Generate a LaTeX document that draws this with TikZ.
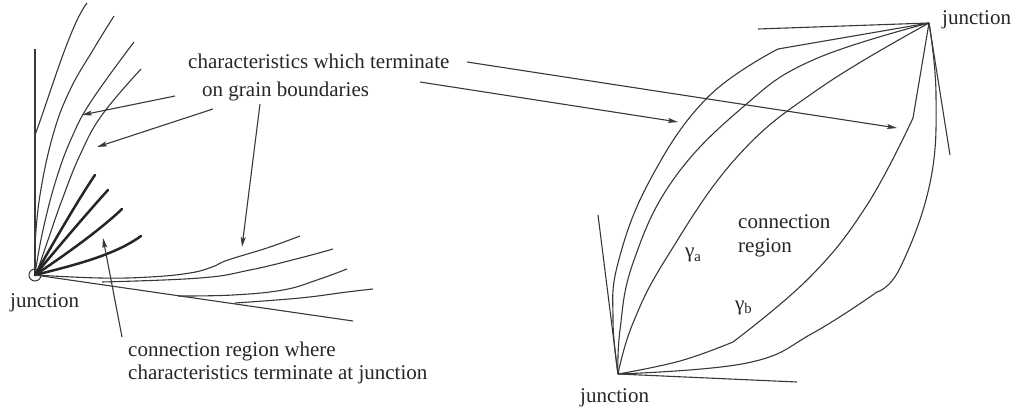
\documentclass[tikz,border=0pt]{standalone}
\usepackage{fontspec}
\setmainfont{Liberation Serif}
\usetikzlibrary{arrows.meta}
\begin{document}
\begin{tikzpicture}[x=1pt,y=-1pt,
  ln/.style={line width=1.1pt, draw=black!78, line join=round},
  bold/.style={line width=2.5pt, draw=black!85, line cap=round},
  arr/.style={line width=1.1pt, draw=black!78, -{Stealth[length=10pt,width=5pt,inset=2pt]}},
  lbl/.style={font=\fontsize{21}{25}\selectfont, text=black!85, inner sep=0pt, anchor=base west},
  sm/.style={smooth, tension=0.7},
]
\useasboundingbox (0,0) rectangle (1016,411);

% ---------------- left figure ----------------
\coordinate (JL) at (35,275);
\node[circle, draw=black!78, line width=1pt, minimum size=12pt, inner sep=0pt] (JLc) at (JL) {};
\coordinate (GBtop) at (35,49);
\coordinate (GBlow) at (353,321);
\draw[ln] (GBtop) -- (JL);
\draw[ln] (JL) -- (GBlow);

% characteristics ending on vertical boundary
\draw[ln] (35,135) .. controls (50,95) and (70,25) .. (87,3);
\draw[ln] plot[sm] coordinates {(35,245) (40,195) (53,135) (70,90) (93,50) (114,16)};
\draw[ln] plot[sm] coordinates {(36,268) (43,230) (56,180) (72,137) (92,100) (134,42)};
\draw[ln] plot[sm] coordinates {(37,272) (48,240) (62,200) (80,155) (102,115) (141,69)};

% bold connection-region characteristics
\draw[bold] (JL) .. controls (55,240) and (78,200) .. (95,175);
\draw[bold] (JL) .. controls (60,245) and (88,212) .. (108,190);
\draw[bold] (JL) .. controls (65,255) and (100,230) .. (122,209);
\draw[bold] (JL) .. controls (75,265) and (115,255) .. (141,236);

% characteristics ending on lower boundary
\draw[ln] plot[sm] coordinates {(JL) (100,278) (150,277) (190,273) (212,267) (228,260) (267,248) (300,236)};
\draw[ln] plot[sm] coordinates {(102,282) (200,278) (250,270) (300,258) (333,249)};
\draw[ln] plot[sm] coordinates {(178,296) (233,295) (283,290) (317,280) (347,269)};
\draw[ln] plot[sm] coordinates {(235,303) (300,298) (347,292) (373,289)};

\node[lbl] (jl) at (10,308) {junction};

% ---------------- labels and arrows ----------------
\node[lbl] (t1) at (188,69) {characteristics which terminate};
\node[lbl] (t2) at (202,97) {on grain boundaries};
\node[lbl] (t3) at (128,356) {connection region where};
\node[lbl] (t4) at (128,379) {characteristics terminate at junction};

\coordinate (a1s) at (175,96);  \coordinate (a1e) at (82,115);
\coordinate (a2s) at (213,109); \coordinate (a2e) at (97,147);
\coordinate (a3s) at (260,104); \coordinate (a3e) at (242,247);
\coordinate (a4s) at (467,62);  \coordinate (a4e) at (897,128);
\coordinate (a5s) at (420,82);  \coordinate (a5e) at (678,122);
\coordinate (a6s) at (122,337); \coordinate (a6e) at (103,238);
\draw[arr] (a1s) -- (a1e);
\draw[arr] (a2s) -- (a2e);
\draw[arr] (a3s) -- (a3e);
\draw[arr] (a4s) -- (a4e);
\draw[arr] (a5s) -- (a5e);
\draw[arr] (a6s) -- (a6e);

% ---------------- right figure ----------------
\coordinate (TJ) at (929,23);
\coordinate (BJ) at (618,374);
\draw[ln] (TJ) -- (758,29);
\draw[ln] (TJ) -- (950,155);
\draw[ln] (BJ) -- (598,215);
\draw[ln] (BJ) -- (797,382);

% R1
\draw[ln] (TJ) -- (778,49);
\draw[ln] plot[sm] coordinates {(778,49) (707,98) (650,180) (618,263) (613,320) (BJ)};
% R2
\draw[ln] plot[sm] coordinates {(TJ) (813,60) (743,107) (673,180) (633,263) (620,330) (BJ)};
% R3 gamma_a
\draw[ln] plot[sm] coordinates {(TJ) (820,88) (737,157) (667,257) (633,323) (BJ)};
% R4 gamma_b
\draw[ln] (TJ) -- (913,118);
\draw[ln] plot[sm] coordinates {(913,118) (867,205) (810,277) (733,342)};
\draw[ln] plot[sm] coordinates {(733,342) (680,361) (BJ)};
% R5
\draw[ln] plot[sm] coordinates {(TJ) (936,95) (930,183) (900,268) (877,292)};
\draw[ln] plot[sm] coordinates {(877,292) (813,333) (747,363) (BJ)};

\node[lbl] (jt) at (942,25) {junction};
\node[lbl] (jb) at (580,402) {junction};
\node[lbl] (cr1) at (738,229) {connection};
\node[lbl] (cr2) at (738,253) {region};
\node[lbl] (ga) at (685,258) {γ\textsubscript{a}};
\node[lbl] (gb) at (735,310) {γ\textsubscript{b}};
\end{tikzpicture}
\end{document}
